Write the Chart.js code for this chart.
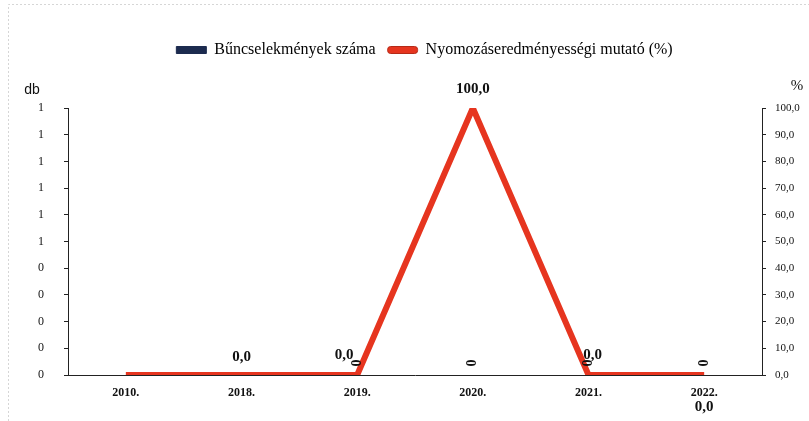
<!DOCTYPE html>
<html>
<head>
<meta charset="utf-8">
<script src="https://cdn.jsdelivr.net/npm/chart.js@4"></script>
<style>
html, body { margin: 0; padding: 0; background: #fff; }
#wrap { width: 809px; height: 421px; }
</style>
</head>
<body>
<div id="wrap"><canvas id="chart" width="809" height="421"></canvas></div>
<script>
// Categories (years)
const categories = ["2010.", "2018.", "2019.", "2020.", "2021.", "2022."];

// Bűncselekmények száma (db) - null where no label is printed
const crimeCounts = [null, null, 0, 0, 0, 0];

// Nyomozáseredményességi mutató (%)
const clearanceRate = [0, 0, 0, 100, 0, 0];

// which rate labels are printed
const rateLabelShown = [false, true, true, true, true, true];

// label placement for the rate labels (style only)
const rateLabelOffset = [[0, 0], [0, -18], [-13, -20], [0, -19], [4, -20], [0, 32]];

const serif = "'Liberation Serif', 'Times New Roman', serif";

const labelPlugin = {
  id: "labels",
  afterLayout(chart) {
    // nudge legend to the right like in the original
    chart.legend.left += 10;
    chart.legend.right += 10;
  },
  beforeDraw(chart) {
    const ctx = chart.ctx;
    ctx.save();
    ctx.strokeStyle = "#d6d6d6";
    ctx.setLineDash([2, 2]);
    ctx.lineWidth = 1;
    ctx.beginPath();
    ctx.moveTo(8.5, 421);
    ctx.lineTo(8.5, 4.5);
    ctx.lineTo(809, 4.5);
    ctx.stroke();
    ctx.restore();
  },
  afterDatasetsDraw(chart) {
    const ctx = chart.ctx;
    const area = chart.chartArea;
    ctx.save();
    ctx.fillStyle = "#111";
    ctx.textAlign = "center";
    ctx.textBaseline = "middle";

    // bar value labels (rotated)
    ctx.font = "bold 14px " + serif;
    chart.getDatasetMeta(0).data.forEach((el, i) => {
      if (crimeCounts[i] === null) return;
      ctx.save();
      ctx.translate(el.x, el.y - 12);
      ctx.rotate(-Math.PI / 2);
      ctx.fillText(String(crimeCounts[i]), 0, 0);
      ctx.restore();
    });

    // rate labels
    ctx.font = "bold 15px " + serif;
    chart.getDatasetMeta(1).data.forEach((el, i) => {
      if (!rateLabelShown[i]) return;
      const off = rateLabelOffset[i];
      const txt = clearanceRate[i].toFixed(1).replace(".", ",");
      ctx.fillText(txt, el.x + off[0], el.y + off[1]);
    });

    // axis unit titles
    ctx.font = "14px 'Liberation Sans', Arial, sans-serif";
    ctx.fillText("db", area.left - 36, area.top - 18);
    ctx.font = "15px " + serif;
    ctx.fillText("%", area.right + 35, area.top - 22);
    ctx.restore();
  }
};

const legendSpace = {
  id: "legendSpace",
  beforeInit(chart) {
    const origFit = chart.legend.fit;
    chart.legend.fit = function () {
      origFit.bind(chart.legend)();
      this.height += 40;
    };
  }
};

new Chart(document.getElementById("chart"), {
  type: "bar",
  data: {
    labels: categories,
    datasets: [
      {
        label: "Bűncselekmények száma",
        data: crimeCounts,
        backgroundColor: "#1c2b4f",
        yAxisID: "y",
        order: 2
      },
      {
        type: "line",
        label: "Nyomozáseredményességi mutató (%)",
        data: clearanceRate,
        borderColor: "#e6351f",
        backgroundColor: "#e6351f",
        borderWidth: 6,
        borderCapStyle: "butt",
        borderJoinStyle: "miter",
        pointRadius: 0,
        tension: 0,
        yAxisID: "y1",
        order: 1
      }
    ]
  },
  options: {
    responsive: false,
    animation: false,
    layout: { padding: { top: 30, left: 20, right: 0, bottom: 6 } },
    plugins: {
      tooltip: { enabled: false },
      legend: {
        position: "top",
        labels: {
          color: "#111",
          font: { family: serif, size: 16 },
          boxWidth: 30,
          boxHeight: 7,
          padding: 12,
          generateLabels(chart) {
            return [
              { text: "Bűncselekmények száma", fillStyle: "#1c2b4f", strokeStyle: "#1c2b4f", lineWidth: 1, datasetIndex: 0 },
              { text: "Nyomozáseredményességi mutató (%)", fillStyle: "#e6351f", strokeStyle: "#b52a18", lineWidth: 1, borderRadius: 3, datasetIndex: 1 }
            ];
          }
        }
      }
    },
    scales: {
      x: {
        offset: true,
        grid: { display: false, drawTicks: false },
        border: { display: true, color: "#222", width: 1 },
        ticks: { color: "#111", font: { family: serif, size: 12, weight: "bold" }, padding: 11 },
        afterFit(scale) { scale.height = 40; }
      },
      y: {
        position: "left",
        min: 0,
        max: 1,
        grid: { drawOnChartArea: false, drawTicks: true, tickLength: 4, color: "#222" },
        border: { display: true, color: "#222", width: 1 },
        ticks: {
          stepSize: 0.1,
          color: "#111",
          font: { family: serif, size: 12 },
          padding: 20,
          callback: (v) => String(Math.round(v))
        },
        afterFit(scale) { scale.width = 48; }
      },
      y1: {
        position: "right",
        min: 0,
        max: 100,
        grid: { drawOnChartArea: false, drawTicks: true, tickLength: 4, color: "#222" },
        border: { display: true, color: "#222", width: 1 },
        ticks: {
          stepSize: 10,
          color: "#111",
          font: { family: serif, size: 11 },
          padding: 9,
          callback: (v) => v.toFixed(1).replace(".", ",")
        },
        afterFit(scale) { scale.width = 47; }
      }
    }
  },
  plugins: [legendSpace, labelPlugin]
});
</script>
</body>
</html>
